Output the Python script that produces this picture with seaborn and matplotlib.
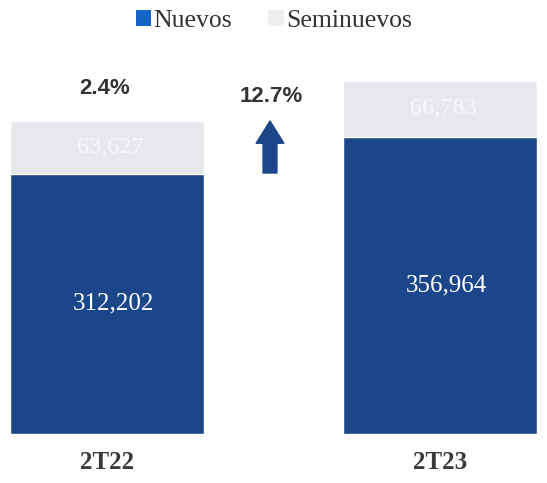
import matplotlib
matplotlib.use("Agg")
import matplotlib.pyplot as plt
import seaborn as sns
import pandas as pd
from matplotlib.patches import Patch

categories = ["2T22", "2T23"]
nuevos = [312202, 356964]
seminuevos = [63627, 66783]
pct_labels = ["2.4%", "12.7%"]

navy = "#1B4689"
gray = "#E7E8EC"
legend_blue = "#1565C8"

sns.set_theme(style="white")
plt.rcParams["font.family"] = ["Liberation Serif", "DejaVu Serif"]

df = pd.DataFrame({"periodo": categories, "Nuevos": nuevos, "Seminuevos": seminuevos})
df["Total"] = df["Nuevos"] + df["Seminuevos"]

fig = plt.figure(figsize=(5.47, 4.83), dpi=100)
ax = fig.add_axes([0, 49 / 483, 1, 434 / 483])

sns.barplot(data=df, x="periodo", y="Total", color=gray, saturation=1, width=0.58, ax=ax)
sns.barplot(data=df, x="periodo", y="Nuevos", color=navy, saturation=1, width=0.58, ax=ax)

ax.set_xlim(-107 / 333, 440 / 333)
ax.set_ylim(0, 434 * 1200)
for s in ax.spines.values():
    s.set_visible(False)
ax.set_yticks([])
ax.set_xlabel("")
ax.set_ylabel("")
ax.tick_params(axis="x", length=0, pad=12, labelsize=18, labelcolor="#3a3a3a")
for lbl in ax.get_xticklabels():
    lbl.set_fontfamily(["Liberation Serif"])
    lbl.set_fontweight("bold")

for i in range(len(categories)):
    ax.text(i + 0.02, nuevos[i] / 2, f"{nuevos[i]:,}", ha="center", va="center",
            color="white", fontsize=18, family=["Liberation Serif"])
    ax.text(i + 0.01, nuevos[i] + seminuevos[i] / 2, f"{seminuevos[i]:,}", ha="center", va="center",
            color="#F8F8FA", fontsize=17.5, family=["Liberation Serif"])

# percentage annotations
fig.text(105 / 547, 1 - 88 / 483, pct_labels[0], ha="center", va="center", fontsize=16,
         fontweight="bold", color="#333333", family=["Liberation Sans", "DejaVu Sans"])
fig.text(271 / 547, 1 - 97 / 483, pct_labels[1], ha="center", va="center", fontsize=16,
         fontweight="bold", color="#333333", family=["Liberation Sans", "DejaVu Sans"])

ax.annotate("", xy=(270, 483 - 121), xytext=(270, 483 - 173),
            xycoords="figure pixels", textcoords="figure pixels",
            arrowprops=dict(arrowstyle="simple,head_length=0.8,head_width=1.0,tail_width=0.5",
                            mutation_scale=20, color=navy, shrinkA=0, shrinkB=0))

handles = [Patch(facecolor=legend_blue, edgecolor="none", label="Nuevos"),
           Patch(facecolor="#EEEEF0", edgecolor="none", label="Seminuevos")]
fig.legend(handles=handles, loc="center", bbox_to_anchor=(274 / 547, 1 - 21 / 483), ncol=2,
           frameon=False, fontsize=18.5, handlelength=0.6, handleheight=0.6,
           handletextpad=0.1, columnspacing=1.4, labelcolor="#333333")

fig.savefig("out.png", dpi=100, facecolor="white")
